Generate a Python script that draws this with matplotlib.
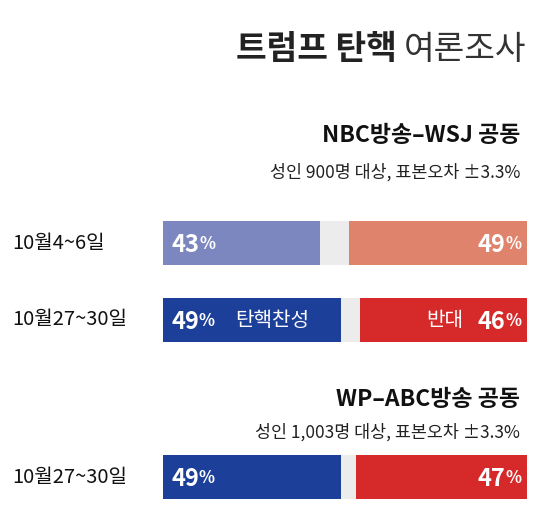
import matplotlib.pyplot as plt

plt.rcParams['font.family'] = ['Noto Sans CJK KR', 'DejaVu Sans']

rows = ['10월4~6일', '10월27~30일', '10월27~30일']
favor = [43, 49, 49]
oppose = [49, 46, 47]
row_y = [243, 320, 477]
fav_colors = ['#7d87bf', '#1c3f99', '#1c3f99']
opp_colors = ['#e0836c', '#d62a2a', '#d62a2a']

X0 = 163
SCALE = 3.64  # px per percent
H = 44

fig = plt.figure(figsize=(5.42, 5.23), dpi=100)
ax = fig.add_axes([0, 0, 1, 1])
ax.set_xlim(0, 542)
ax.set_ylim(523, 0)
ax.axis('off')

# title
ax.text(397, 50, '트럼프 탄핵', fontsize=24, fontweight='bold', ha='right', va='center', color='#222222')
ax.text(404, 50, '여론조사', fontsize=24, ha='left', va='center', color='#333333')

# survey headers
ax.text(520, 136, 'NBC방송–WSJ 공동', fontsize=16.5, fontweight='bold', ha='right', va='center', color='#111111')
ax.text(520, 172, '성인 900명 대상, 표본오차 ±3.3%', fontsize=12.5, ha='right', va='center', color='#222222')
ax.text(520, 400, 'WP–ABC방송 공동', fontsize=16.5, fontweight='bold', ha='right', va='center', color='#111111')
ax.text(520, 432, '성인 1,003명 대상, 표본오차 ±3.3%', fontsize=12.5, ha='right', va='center', color='#222222')

for i, y in enumerate(row_y):
    ax.barh(y, 100 * SCALE, left=X0, height=H, color='#ececec')
    ax.barh(y, favor[i] * SCALE, left=X0, height=H, color=fav_colors[i])
    ax.barh(y, oppose[i] * SCALE, left=X0 + (100 - oppose[i]) * SCALE, height=H, color=opp_colors[i])
    ax.text(12, y, rows[i], fontsize=14.5, ha='left', va='center', color='#111111')
    # favor label
    t = ax.text(X0 + 8, y + 2, str(favor[i]), fontsize=17, fontweight='bold', color='white', ha='left', va='center')
    ax.annotate('%', xycoords=t, xy=(1, 0.15), fontsize=12, fontweight='bold', color='white', va='bottom')
    if i == 1:
        ax.text(X0 + 72, y, '탄핵찬성', fontsize=14.5, color='white', ha='left', va='center')
    # oppose label
    t2 = ax.text(527 - 22, y + 2, str(oppose[i]), fontsize=17, fontweight='bold', color='white', ha='right', va='center')
    ax.annotate('%', xycoords=t2, xy=(1, 0.15), fontsize=12, fontweight='bold', color='white', va='bottom')
    if i == 1:
        ax.text(527 - 64, y, '반대', fontsize=14.5, color='white', ha='right', va='center')

fig.savefig('out.png', dpi=100, facecolor='white')
